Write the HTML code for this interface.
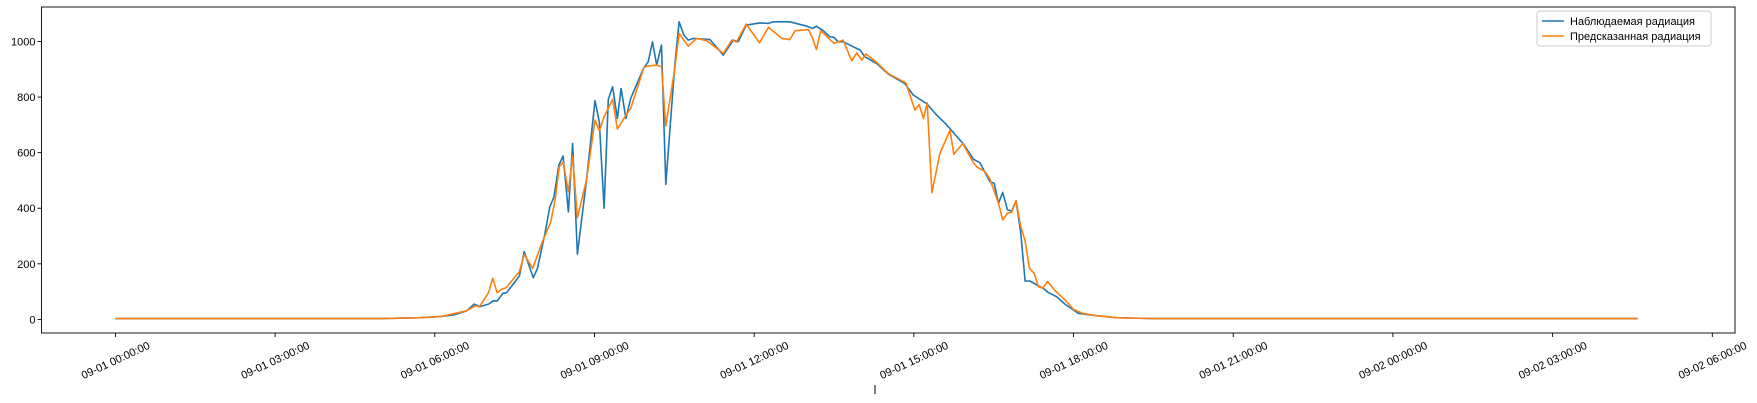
<!DOCTYPE html>
<html><head><meta charset="utf-8"><style>
html,body{margin:0;padding:0;background:#fff;}
svg{display:block;font-family:"Liberation Sans","DejaVu Sans",sans-serif;}
</style></head><body>
<svg id="chart" width="1757" height="403" viewBox="0 0 1757 403" xmlns="http://www.w3.org/2000/svg"></svg>
<script>
// hours since 09-01 00:00
const obsTimes = [0,1,2,3,4,5,5.72,6.10,6.35,6.60,6.74,6.85,7.01,7.10,7.17,7.28,7.35,7.59,7.68,7.85,7.93,8.07,8.16,8.24,8.33,8.41,8.51,8.59,8.68,8.85,9.01,9.09,9.18,9.26,9.34,9.43,9.50,9.59,9.68,9.92,10.01,10.09,10.17,10.26,10.34,10.51,10.59,10.68,10.76,10.86,11.17,11.42,11.61,11.70,11.85,12.11,12.27,12.36,12.67,12.99,13.10,13.17,13.30,13.42,13.50,13.58,13.67,13.99,14.08,14.30,14.52,14.83,14.99,15.24,15.43,15.62,15.93,16.12,16.24,16.43,16.51,16.59,16.67,16.76,16.84,16.92,17.01,17.09,17.18,17.31,17.43,17.53,17.68,17.84,18.09,18.31,18.81,19.5,21,23,25,27,28.6];
const obsValues = [3,3,3,3,3,3,6,10,16,31,55,46,55,67,66,94,96,156,244,150,184,310,405,441,555,588,387,633,235,501,787,711,400,792,837,723,831,723,795,903,927,999,915,987,486,915,1071,1023,1005,1011,1007,951,1005,999,1059,1067,1065,1071,1071,1055,1047,1055,1039,1017,1015,999,999,969,945,921,883,849,807,777,735,699,631,576,564,495,490,418,457,394,390,427,310,138,138,124,112,96,82,55,22,16,6,3,3,3,3,3,3];
const predTimes = [0,1,2,3,4,5,5.72,6.10,6.60,6.76,6.84,7.01,7.09,7.17,7.26,7.34,7.59,7.68,7.84,8.01,8.18,8.26,8.34,8.41,8.51,8.59,8.68,8.85,9.01,9.09,9.18,9.34,9.43,9.61,9.68,9.93,10.01,10.17,10.26,10.34,10.51,10.59,10.76,10.92,11.11,11.42,11.58,11.67,11.85,12.10,12.27,12.52,12.67,12.77,13.02,13.10,13.17,13.25,13.50,13.67,13.83,13.93,14.02,14.10,14.30,14.52,14.85,15.02,15.10,15.18,15.25,15.34,15.49,15.68,15.75,15.92,16.11,16.18,16.34,16.43,16.59,16.67,16.76,16.84,16.92,17.01,17.09,17.17,17.26,17.34,17.42,17.51,17.67,17.84,18.00,18.17,18.44,18.81,19.5,21,23,25,27,28.6];
const predValues = [3,3,3,3,3,3,6,10,31,49,46,96,148,96,109,114,172,234,184,274,351,430,549,567,459,588,366,501,717,678,729,792,685,741,759,907,912,915,909,696,903,1029,983,1011,1003,957,1005,999,1063,995,1051,1011,1007,1039,1043,1011,971,1039,993,1005,931,959,933,955,925,885,851,753,773,723,779,456,597,681,594,633,567,549,531,504,418,358,382,386,427,333,283,184,166,118,112,136,100,70,36,22,13,6,3,3,3,3,3,3];
const yTicks = [0,200,400,600,800,1000];
const xTickHours = [0,3,6,9,12,15,18,21,24,27,30];
const xTickLabels = ["09-01 00:00:00","09-01 03:00:00","09-01 06:00:00","09-01 09:00:00","09-01 12:00:00","09-01 15:00:00","09-01 18:00:00","09-01 21:00:00","09-02 00:00:00","09-02 03:00:00","09-02 06:00:00"];

const NS="http://www.w3.org/2000/svg";
const svg=document.getElementById('chart');
const L=41.5,R=1735,T=7,B=333;
const xs=h=>115.4+h*53.23;
const ys=v=>319.4-v*0.2779;
function mk(tag,attrs,parent){const e=document.createElementNS(NS,tag);for(const k in attrs)e.setAttribute(k,attrs[k]);(parent||svg).appendChild(e);return e;}

const frame=mk('rect',{x:L,y:T,width:R-L,height:B-T,fill:'none',stroke:'#000','stroke-width':0.9});



yTicks.forEach(v=>{
  const y=ys(v);
  const t=mk('line',{x1:L-4,x2:L,y1:y,y2:y,stroke:'#000','stroke-width':0.9});
  
  
  const tx=mk('text',{x:L-6,y:y+4,'text-anchor':'end','font-size':11,fill:'#000'});
  tx.textContent=v;
  
  
});
xTickHours.forEach((h,i)=>{
  const x=xs(h);
  const t=mk('line',{x1:x,x2:x,y1:B,y2:B+4,stroke:'#000','stroke-width':0.9});
  
  
  const tx=mk('text',{x:x,y:364,'text-anchor':'middle','font-size':11,fill:'#000',transform:`rotate(-25 ${x} 360)`});
  tx.textContent=xTickLabels[i];
  
  
});
const xl=mk('line',{x1:875,x2:875,y1:385,y2:394,stroke:'#000','stroke-width':1});



function series(times,vals,color,name){
  const d=times.map((h,i)=>(i?'L':'M')+xs(h).toFixed(1)+' '+ys(vals[i]).toFixed(1)).join(' ');
  const p=mk('path',{d:d,fill:'none',stroke:color,'stroke-width':1.6,'stroke-linejoin':'round'});
  
  
}
series(obsTimes,obsValues,'#1f77b4','observed-radiation-line');
series(predTimes,predValues,'#ff7f0e','predicted-radiation-line');

const lg=mk('g',{});


mk('rect',{x:1537,y:11,width:174,height:35,rx:3,fill:'#fff',stroke:'#ccc','stroke-width':1},lg);
[['Наблюдаемая радиация','#1f77b4'],['Предсказанная радиация','#ff7f0e']].forEach((e,i)=>{
  const y=21+i*15;
  const g=mk('g',{},lg);
  
  
  mk('line',{x1:1542,x2:1564,y1:y,y2:y,stroke:e[1],'stroke-width':1.6},g);
  const t=mk('text',{x:1570,y:y+4,'font-size':11,fill:'#000'},g);
  t.textContent=e[0];
});
</script>
</body></html>
